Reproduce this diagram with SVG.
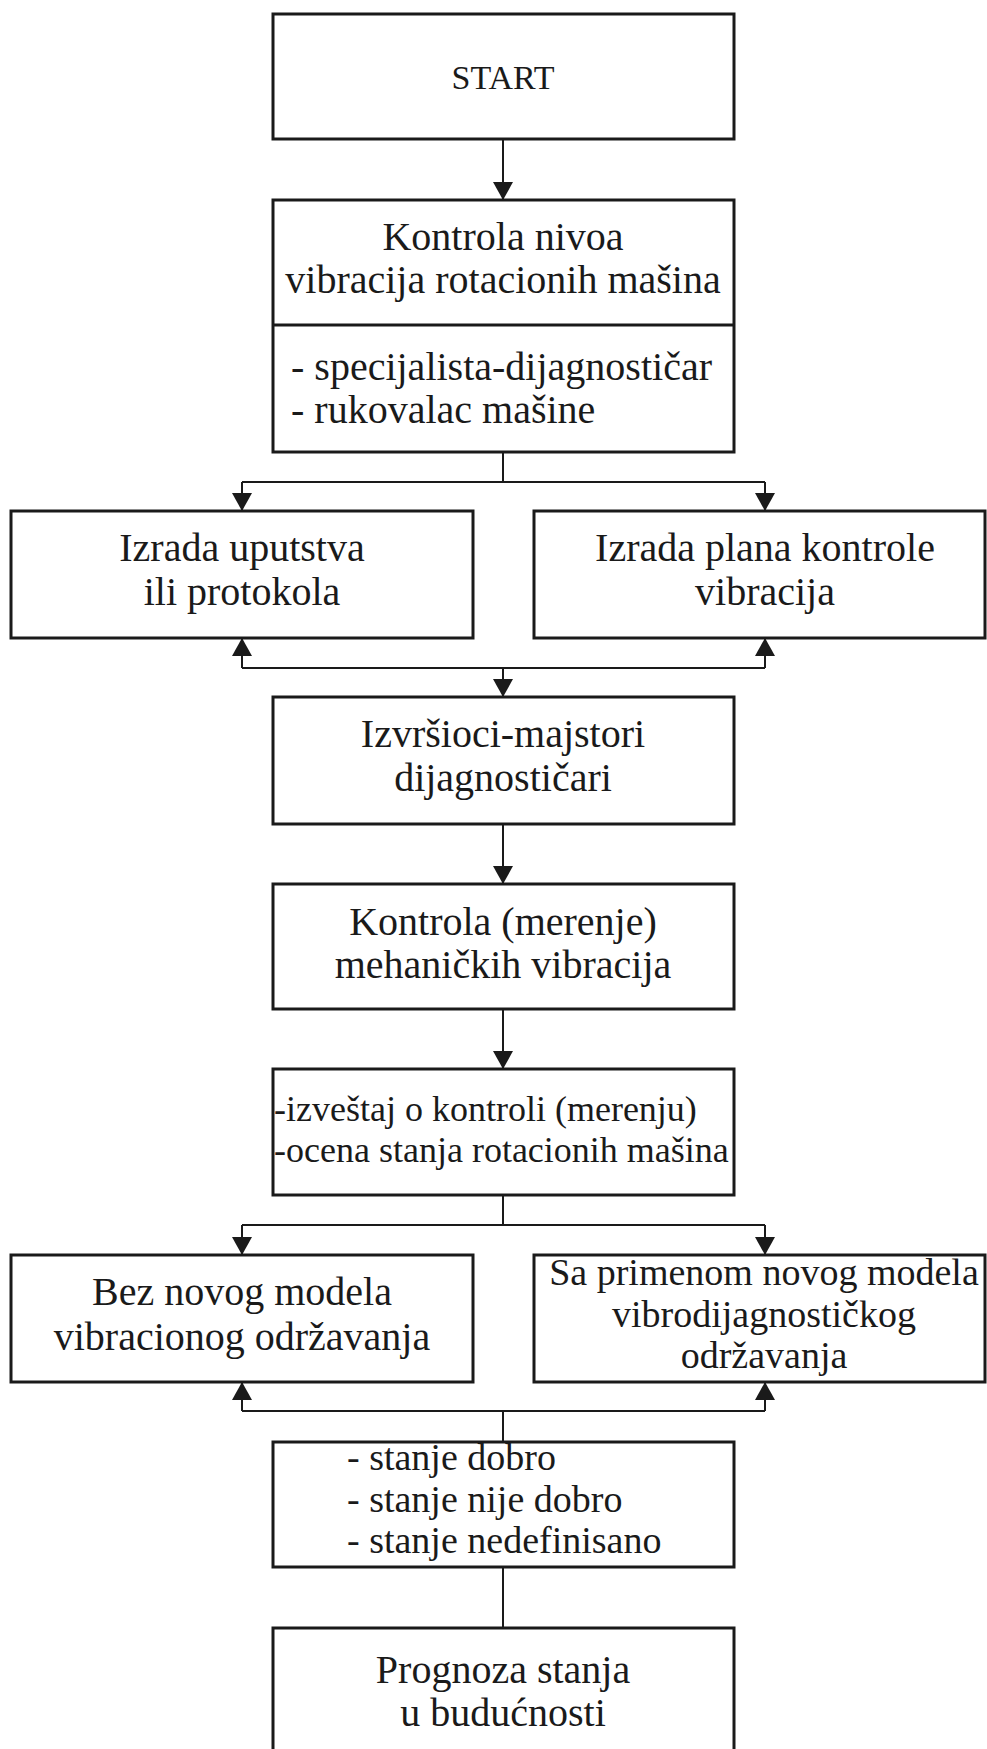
<svg xmlns="http://www.w3.org/2000/svg" width="987" height="1749" viewBox="0 0 987 1749">
<style>
.box{fill:#fff;stroke:#1a1a1a;stroke-width:3}
.t{font-family:"Liberation Serif","Times New Roman",serif;font-size:40px;fill:#1a1a1a;text-anchor:middle}
.l{text-anchor:start}
.c{fill:none;stroke:#1a1a1a;stroke-width:2}
</style>
<defs>
<marker id="ad" markerUnits="userSpaceOnUse" markerWidth="18" markerHeight="20" refX="18" refY="10" orient="auto" viewBox="0 0 18 20">
<path d="M0,0 L18,10 L0,20 Z" fill="#1a1a1a"/>
</marker>
</defs>
<g id="connectors">
<line class="c" x1="503" y1="140" x2="503" y2="200" marker-end="url(#ad)"/>
<line class="c" x1="503" y1="452" x2="503" y2="482"/>
<line class="c" x1="242" y1="482" x2="765" y2="482"/>
<line class="c" x1="242" y1="482" x2="242" y2="511" marker-end="url(#ad)"/>
<line class="c" x1="765" y1="482" x2="765" y2="511" marker-end="url(#ad)"/>
<line class="c" x1="242" y1="668" x2="242" y2="638" marker-end="url(#ad)"/>
<line class="c" x1="765" y1="668" x2="765" y2="638" marker-end="url(#ad)"/>
<line class="c" x1="242" y1="668" x2="765" y2="668"/>
<line class="c" x1="503" y1="668" x2="503" y2="697" marker-end="url(#ad)"/>
<line class="c" x1="503" y1="824" x2="503" y2="884" marker-end="url(#ad)"/>
<line class="c" x1="503" y1="1009" x2="503" y2="1069" marker-end="url(#ad)"/>
<line class="c" x1="503" y1="1195" x2="503" y2="1225"/>
<line class="c" x1="242" y1="1225" x2="765" y2="1225"/>
<line class="c" x1="242" y1="1225" x2="242" y2="1255" marker-end="url(#ad)"/>
<line class="c" x1="765" y1="1225" x2="765" y2="1255" marker-end="url(#ad)"/>
<line class="c" x1="242" y1="1411" x2="242" y2="1382" marker-end="url(#ad)"/>
<line class="c" x1="765" y1="1411" x2="765" y2="1382" marker-end="url(#ad)"/>
<line class="c" x1="242" y1="1411" x2="765" y2="1411"/>
<line class="c" x1="503" y1="1411" x2="503" y2="1442"/>
<line class="c" x1="503" y1="1567" x2="503" y2="1628"/>
</g>
<g id="start">
<rect class="box" x="273" y="14" width="461" height="125"/>
<text class="t" x="503" y="89" style="font-size:34px">START</text>
</g>
<g id="kontrola-nivoa">
<rect class="box" x="273" y="200" width="461" height="252"/>
<line x1="273" y1="325" x2="734" y2="325" stroke="#1a1a1a" stroke-width="3"/>
<text class="t" x="503" y="250">Kontrola nivoa</text>
<text class="t" x="503" y="293">vibracija rotacionih mašina</text>
<text class="t l" x="291" y="380">- specijalista-dijagnostičar</text>
<text class="t l" x="291" y="423">- rukovalac mašine</text>
</g>
<g id="uputstvo">
<rect class="box" x="11" y="511" width="462" height="127"/>
<text class="t" x="242" y="561">Izrada uputstva</text>
<text class="t" x="242" y="605">ili protokola</text>
</g>
<g id="plan">
<rect class="box" x="534" y="511" width="451" height="127"/>
<text class="t" x="765" y="561">Izrada plana kontrole</text>
<text class="t" x="765" y="605">vibracija</text>
</g>
<g id="izvrsioci">
<rect class="box" x="273" y="697" width="461" height="127"/>
<text class="t" x="503" y="747">Izvršioci-majstori</text>
<text class="t" x="503" y="791">dijagnostičari</text>
</g>
<g id="merenje">
<rect class="box" x="273" y="884" width="461" height="125"/>
<text class="t" x="503" y="935">Kontrola (merenje)</text>
<text class="t" x="503" y="978">mehaničkih vibracija</text>
</g>
<g id="izvestaj">
<rect class="box" x="273" y="1069" width="461" height="126"/>
<text class="t l" x="274" y="1121" style="font-size:36px">-izveštaj o kontroli (merenju)</text>
<text class="t l" x="274" y="1162" style="font-size:36px">-ocena stanja rotacionih mašina</text>
</g>
<g id="bez-modela">
<rect class="box" x="11" y="1255" width="462" height="127"/>
<text class="t" x="242" y="1305">Bez novog modela</text>
<text class="t" x="242" y="1350">vibracionog održavanja</text>
</g>
<g id="sa-modelom">
<rect class="box" x="534" y="1255" width="451" height="127"/>
<text class="t" x="764" y="1285" style="font-size:38px">Sa primenom novog modela</text>
<text class="t" x="764" y="1327" style="font-size:38px">vibrodijagnostičkog</text>
<text class="t" x="764" y="1368" style="font-size:38px">održavanja</text>
</g>
<g id="stanje">
<rect class="box" x="273" y="1442" width="461" height="125"/>
<text class="t l" x="347" y="1470" style="font-size:38px">- stanje dobro</text>
<text class="t l" x="347" y="1512" style="font-size:38px">- stanje nije dobro</text>
<text class="t l" x="347" y="1553" style="font-size:38px">- stanje nedefinisano</text>
</g>
<g id="prognoza">
<rect class="box" x="273" y="1628" width="461" height="130"/>
<text class="t" x="503" y="1683">Prognoza stanja</text>
<text class="t" x="503" y="1726">u budućnosti</text>
</g>
</svg>
